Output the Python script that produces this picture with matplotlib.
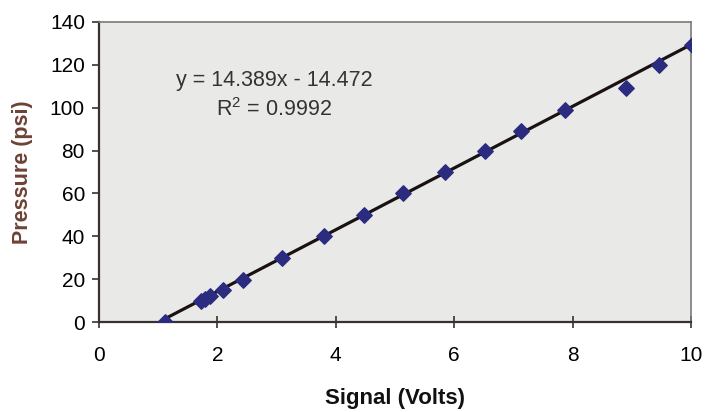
# calibration plot: pressure vs signal with linear trendline
import numpy as np
import matplotlib.pyplot as plt

# ==== data ====
signal = [1.12, 1.72, 1.80, 1.88, 2.10, 2.43, 3.10, 3.80, 4.47, 5.13, 5.84,
          6.52, 7.12, 7.87, 8.90, 9.45, 10.01]
pressure = [0, 10, 11, 12, 15, 19.5, 30, 40, 50, 60, 70,
            80, 89, 99, 109, 120, 129]
slope, icpt = 14.389, -14.472
eq_text = 'y = 14.389x - 14.472'
r2_text = 'R$^2$ = 0.9992'

xticks = [0, 2, 4, 6, 8, 10]
yticks = [0, 20, 40, 60, 80, 100, 120, 140]

# ==== plotting ====
plt.rcParams['font.family'] = ['Liberation Sans', 'DejaVu Sans']
plt.rcParams['mathtext.fontset'] = 'custom'
plt.rcParams['mathtext.rm'] = 'Liberation Sans'

fig = plt.figure(figsize=(7.06, 4.12), dpi=100)
ax = fig.add_axes([0.140, 0.218, 0.839, 0.729])
ax.set_facecolor('#e9e9e8')

xfit = np.array([min(signal), max(signal)])
ax.plot(xfit, slope*xfit + icpt, color='#1a1212', lw=2.3, zorder=2)
ax.scatter(signal, pressure, marker='D', s=62, color='#2b2c80',
           edgecolors='#2b2c80', zorder=3)

ax.set_xlim(0, 10)
ax.set_ylim(0, 140)
ax.set_xticks(xticks)
ax.set_yticks(yticks)
ax.tick_params(axis='x', direction='inout', length=9, width=1.2,
               color='#333333', labelsize=15, pad=12.5)
ax.tick_params(axis='y', direction='out', length=5, width=1.2,
               color='#333333', labelsize=15, pad=5)

for s in ['left', 'bottom']:
    ax.spines[s].set_color('#3a3030')
    ax.spines[s].set_linewidth(1.6)
for s in ['top', 'right']:
    ax.spines[s].set_color('#7a7a7a')
    ax.spines[s].set_linewidth(1.2)

ax.set_xlabel('Signal (Volts)', fontsize=16, fontweight='bold',
              color='#111111', labelpad=17)
ax.set_ylabel('Pressure (psi)', fontsize=15.5, fontweight='bold',
              color='#6e4236', labelpad=12)

ax.text(2.96, 112.5, eq_text, fontsize=15.5, color='#333333',
        ha='center', va='center')
ax.text(2.96, 99, r2_text, fontsize=15.5, color='#333333',
        ha='center', va='center')

fig.savefig('out.png', dpi=100)
